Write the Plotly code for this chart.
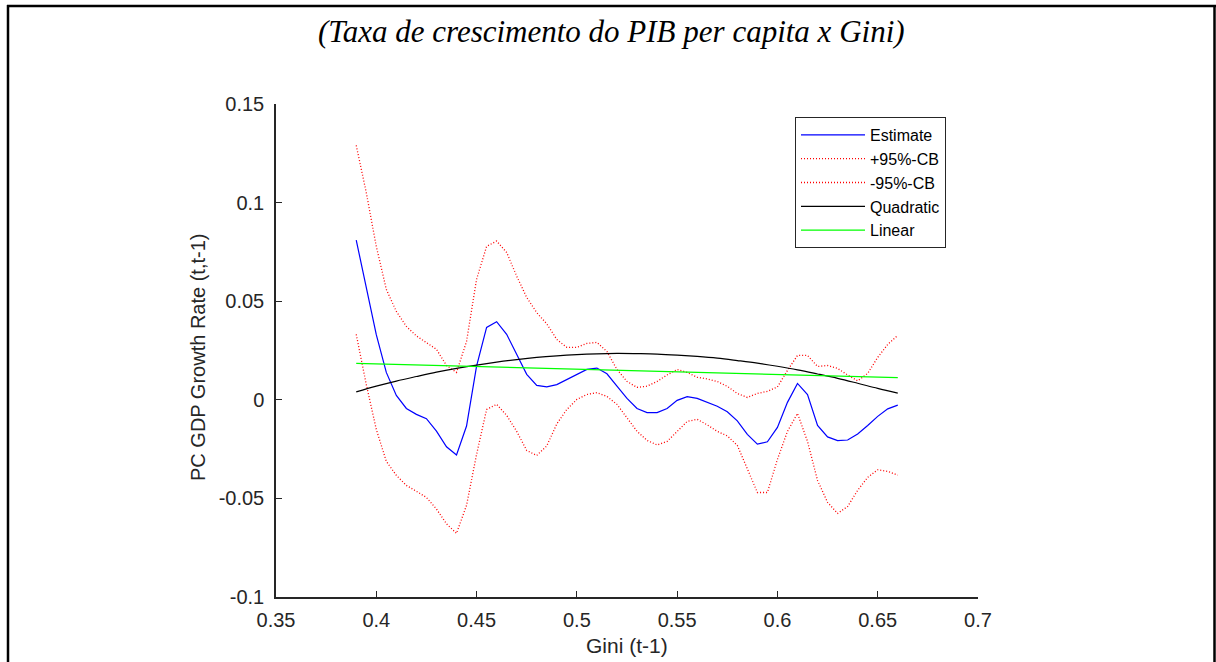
import plotly.graph_objects as go

# ---------------- data ----------------
gini = [0.390, 0.395, 0.400, 0.405, 0.410, 0.415, 0.420, 0.425, 0.430, 0.435,
        0.440, 0.445, 0.450, 0.455, 0.460, 0.465, 0.470, 0.475, 0.480, 0.485,
        0.490, 0.495, 0.500, 0.505, 0.510, 0.515, 0.520, 0.525, 0.530, 0.535,
        0.540, 0.545, 0.550, 0.555, 0.560, 0.565, 0.570, 0.575, 0.580, 0.585,
        0.590, 0.595, 0.600, 0.605, 0.610, 0.615, 0.620, 0.625, 0.630, 0.635,
        0.640, 0.645, 0.650, 0.655, 0.660]

estimate = [0.0810, 0.0575, 0.0330, 0.0139, 0.0022, -0.0044, -0.0074, -0.0096, -0.0159, -0.0238,
            -0.0280, -0.0133, 0.0171, 0.0367, 0.0396, 0.0332, 0.0230, 0.0129, 0.0073, 0.0066,
            0.0077, 0.0103, 0.0132, 0.0154, 0.0161, 0.0132, 0.0069, 0.0007, -0.0044, -0.0065,
            -0.0065, -0.0044, -0.0003, 0.0016, 0.0007, -0.0011, -0.0033, -0.0061, -0.0107, -0.0175,
            -0.0225, -0.0213, -0.0140, -0.0013, 0.0083, 0.0027, -0.0130, -0.0188, -0.0207, -0.0204,
            -0.0173, -0.0130, -0.0084, -0.0046, -0.0027]

upper_cb = [0.1290, 0.1051, 0.0778, 0.0560, 0.0448, 0.0372, 0.0324, 0.0289, 0.0256, 0.0174,
            0.0139, 0.0296, 0.0611, 0.0778, 0.0805, 0.0747, 0.0627, 0.0519, 0.0442, 0.0385,
            0.0306, 0.0266, 0.0266, 0.0286, 0.0291, 0.0245, 0.0154, 0.0093, 0.0063, 0.0069,
            0.0093, 0.0126, 0.0154, 0.0139, 0.0114, 0.0106, 0.0093, 0.0068, 0.0032, 0.0012,
            0.0032, 0.0043, 0.0065, 0.0149, 0.0225, 0.0225, 0.0169, 0.0174, 0.0159, 0.0126,
            0.0096, 0.0134, 0.0215, 0.0281, 0.0327]

lower_cb = [0.0332, 0.0078, -0.0150, -0.0312, -0.0383, -0.0434, -0.0464, -0.0495, -0.0554, -0.0629,
            -0.0677, -0.0535, -0.0277, -0.0049, -0.0023, -0.0079, -0.0160, -0.0257, -0.0282, -0.0234,
            -0.0122, -0.0049, 0.0002, 0.0027, 0.0036, 0.0017, -0.0023, -0.0089, -0.0160, -0.0206,
            -0.0229, -0.0211, -0.0160, -0.0110, -0.0099, -0.0127, -0.0160, -0.0183, -0.0231, -0.0348,
            -0.0470, -0.0470, -0.0302, -0.0160, -0.0069, -0.0211, -0.0409, -0.0520, -0.0576, -0.0541,
            -0.0459, -0.0393, -0.0355, -0.0363, -0.0382]

gini_quad = [0.39, 0.40, 0.41, 0.42, 0.43, 0.44, 0.45, 0.46, 0.47, 0.48,
             0.49, 0.50, 0.51, 0.52, 0.53, 0.54, 0.55, 0.56, 0.57, 0.58,
             0.59, 0.60, 0.61, 0.62, 0.63, 0.64, 0.65, 0.66]
quadratic = [0.0040, 0.0069, 0.0095, 0.0118, 0.0140, 0.0159, 0.0176, 0.0191, 0.0204, 0.0215,
             0.0223, 0.0229, 0.0233, 0.0235, 0.0234, 0.0232, 0.0227, 0.0220, 0.0211, 0.0199,
             0.0186, 0.0170, 0.0152, 0.0131, 0.0109, 0.0084, 0.0058, 0.0034]

gini_lin = [0.39, 0.66]
linear = [0.0185, 0.0112]

x_tickvals = [0.35, 0.40, 0.45, 0.50, 0.55, 0.60, 0.65, 0.70]
x_ticktext = ["0.35", "0.4", "0.45", "0.5", "0.55", "0.6", "0.65", "0.7"]
y_tickvals = [-0.10, -0.05, 0.0, 0.05, 0.10, 0.15]
y_ticktext = ["-0.1", "-0.05", "0", "0.05", "0.1", "0.15"]

title_text = "(Taxa de crescimento do PIB per capita x Gini)"
x_title = "Gini (t-1)"
y_title = "PC GDP Growth Rate (t,t-1)"

# ---------------- figure ----------------
W, H = 1216, 662
L, R, T, B = 276, 978, 104, 597   # plot area in px


def px_x(p):
    return (p - L) / (R - L)


def px_y(p):
    return (B - p) / (B - T)


dotted = "1px,2px"

fig = go.Figure()
fig.add_trace(go.Scatter(x=gini, y=estimate, mode="lines", name="Estimate",
                         line=dict(color="#0000ff", width=1.2)))
fig.add_trace(go.Scatter(x=gini, y=upper_cb, mode="lines", name="+95%-CB",
                         line=dict(color="#ff0000", width=1.3, dash=dotted)))
fig.add_trace(go.Scatter(x=gini, y=lower_cb, mode="lines", name="-95%-CB",
                         line=dict(color="#ff0000", width=1.3, dash=dotted)))
fig.add_trace(go.Scatter(x=gini_quad, y=quadratic, mode="lines", name="Quadratic",
                         line=dict(color="#000000", width=1.2, shape="spline")))
fig.add_trace(go.Scatter(x=gini_lin, y=linear, mode="lines", name="Linear",
                         line=dict(color="#00ff00", width=1.2)))

tick_font = dict(family="Arial, Liberation Sans, sans-serif", size=20, color="#262626")
label_font = dict(family="Arial, Liberation Sans, sans-serif", size=21, color="#262626")

fig.update_layout(
    width=W, height=H, autosize=False,
    margin=dict(l=L, r=W - R, t=T, b=H - B, pad=0),
    paper_bgcolor="white", plot_bgcolor="white",
    showlegend=True,
    legend=dict(x=px_x(795), y=px_y(117), xanchor="left", yanchor="top",
                bgcolor="white", bordercolor="#262626", borderwidth=1,
                font=dict(family="Arial, Liberation Sans, sans-serif", size=16, color="#000000"),
                itemwidth=64, tracegroupgap=0),
    xaxis=dict(range=[0.35, 0.70], tickvals=x_tickvals, ticktext=x_ticktext,
               showgrid=False, zeroline=False, showline=True, linecolor="#262626",
               linewidth=1.5, ticks="inside", ticklen=6, tickcolor="#262626",
               tickfont=tick_font, ticklabelstandoff=4, fixedrange=True),
    yaxis=dict(range=[-0.10, 0.15], tickvals=y_tickvals, ticktext=y_ticktext,
               showgrid=False, zeroline=False, showline=True, linecolor="#262626",
               linewidth=1.5, ticks="inside", ticklen=6, tickcolor="#262626",
               tickfont=tick_font, ticklabelstandoff=6, fixedrange=True),
    annotations=[
        dict(text="<i>" + title_text + "</i>", x=px_x(611), y=px_y(31), xref="paper", yref="paper",
             xanchor="center", yanchor="middle", showarrow=False,
             font=dict(family="Times New Roman, Liberation Serif, serif", size=31, color="#000000")),
        dict(text=x_title, x=px_x(627), y=px_y(645), xref="paper", yref="paper",
             xanchor="center", yanchor="middle", showarrow=False, font=label_font),
        dict(text=y_title, x=px_x(198), y=px_y(358), xref="paper", yref="paper",
             xanchor="center", yanchor="middle", showarrow=False, textangle=-90,
             font=dict(family="Arial, Liberation Sans, sans-serif", size=20, color="#262626")),
    ],
    shapes=[
        dict(type="line", xref="paper", yref="paper", x0=px_x(7), x1=px_x(1216),
             y0=px_y(6), y1=px_y(6), line=dict(color="black", width=2.5)),
        dict(type="line", xref="paper", yref="paper", x0=px_x(8), x1=px_x(8),
             y0=px_y(5), y1=px_y(662), line=dict(color="black", width=2.5)),
        dict(type="line", xref="paper", yref="paper", x0=px_x(1214.5), x1=px_x(1214.5),
             y0=px_y(5), y1=px_y(662), line=dict(color="black", width=2.5)),
    ],
)

fig.write_html("out.html", config={"displayModeBar": False})
